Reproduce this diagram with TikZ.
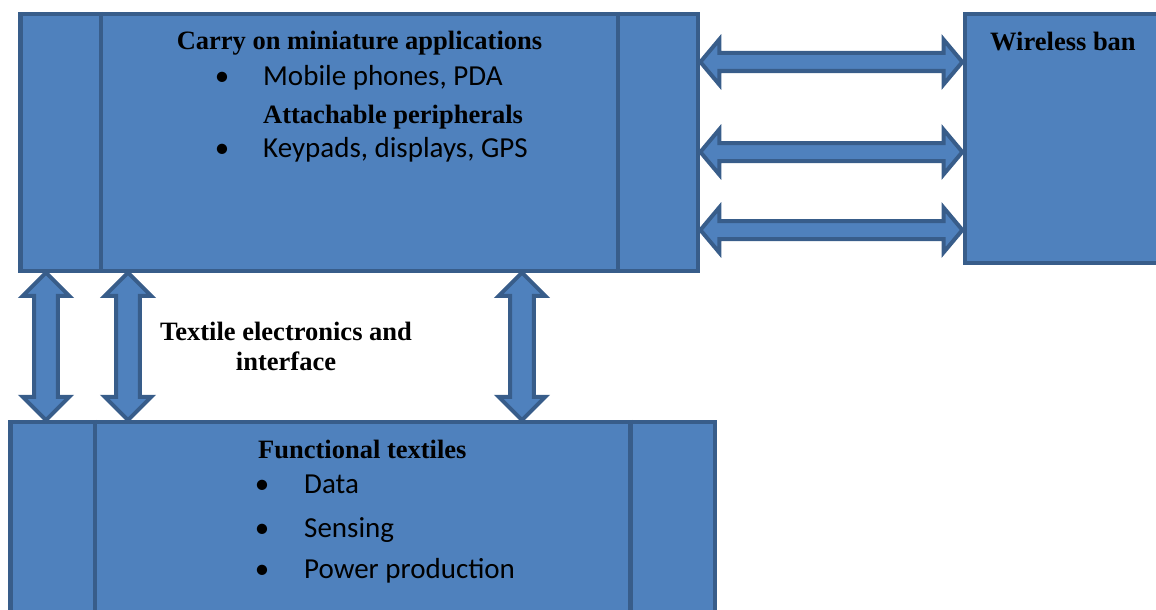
\documentclass[tikz,border=0pt]{standalone}
\usepackage{fontspec}
\setmainfont{Liberation Serif}
\newfontfamily\bodyfont{Carlito}
\usetikzlibrary{shapes.arrows,calc}
\definecolor{boxblue}{RGB}{79,129,189}
\definecolor{edgeblue}{RGB}{56,93,138}

\begin{document}
\begin{tikzpicture}[x=1pt, y=-1pt,
      block/.style={rectangle, draw=edgeblue, fill=boxblue,
                    line width=4.5pt, inner sep=0pt},
      divider/.style={draw=edgeblue, line width=4.5pt},
      head/.style={font=\fontsize{26.5}{30}\selectfont\bfseries,
                   inner sep=0pt},
      item/.style={font=\bodyfont\fontsize{29}{34}\selectfont,
                   inner sep=0pt},
      linkarrow/.style={double arrow, draw=edgeblue, fill=boxblue,
                        line width=4pt, inner xsep=0pt},
      harrow/.style={linkarrow, minimum height=262pt, inner ysep=7pt,
                     double arrow head extend=13.5pt,
                     double arrow tip angle=100},
      varrow/.style={linkarrow, rotate=90, minimum height=147.5pt,
                     inner ysep=9.8pt, double arrow head extend=11.5pt,
                     double arrow tip angle=90},
    ]
      \useasboundingbox (0,0) rectangle (1156,610);
      \clip (0,0) rectangle (1156,610);
      %% Blocks
      \node[block, minimum width=677.5pt, minimum height=256.5pt]
            (carry) at (359, 142.5) {};
      \node[block, minimum width=214pt, minimum height=248.5pt]
            (wireless) at (1072, 138.5) {};
      \node[block, minimum width=704.5pt, minimum height=228pt]
            (func) at (362.5, 536) {};
      %% Side strips
      \draw[divider] (carry.north -| 101,0) -- (carry.south -| 101,0);
      \draw[divider] (carry.north -| 618,0) -- (carry.south -| 618,0);
      \draw[divider] (func.north -| 95,0) -- (func.south -| 95,0);
      \draw[divider] (func.north -| 630.5,0) -- (func.south -| 630.5,0);
      %% Links to the wireless block
      \foreach \y [count=\i] in {62,152,230}{
        \path (carry.east |- 0,\y) -- node[harrow] (wl\i) {}
              (wireless.west |- 0,\y);
      }
      %% Links to the functional textiles
      \foreach \x [count=\i] in {46,128,522}{
        \path (carry.south -| \x,0) -- node[varrow] (tx\i) {}
              (func.north -| \x,0);
      }
      %% Carry-on block text
      \node[head, anchor=base] (carryhd) at (359.5, 50)
            {Carry on miniature applications};
      \node[item, anchor=base] (dot1) at (222, 85) {•};
      \node[item, anchor=base west] (phones) at (263, 85)
            {Mobile phones, PDA};
      \node[head, anchor=base west] (attach) at (263, 123)
            {Attachable peripherals};
      \node[item, anchor=base] (dot2) at (222, 157) {•};
      \node[item, anchor=base west] (keypads) at (263, 157)
            {Keypads, displays, GPS};
      %% Wireless block text
      \node[head, anchor=base west] (wirelesshd) at (990, 51) {Wireless ban};
      %% Interface label
      \node[head, align=center] (textile) at (286, 346)
            {Textile electronics and\\interface};
      %% Functional textiles text
      \node[head, anchor=base west] (funchd) at (258, 458)
            {Functional textiles};
      \foreach \y/\txt [count=\i] in {493/Data, 537/Sensing,
                                      578/Power production}{
        \node[item, anchor=base] (fdot\i) at (262, \y) {•};
        \node[item, anchor=base west] (fitem\i) at (304, \y) {\txt};
      }
\end{tikzpicture}
\end{document}
